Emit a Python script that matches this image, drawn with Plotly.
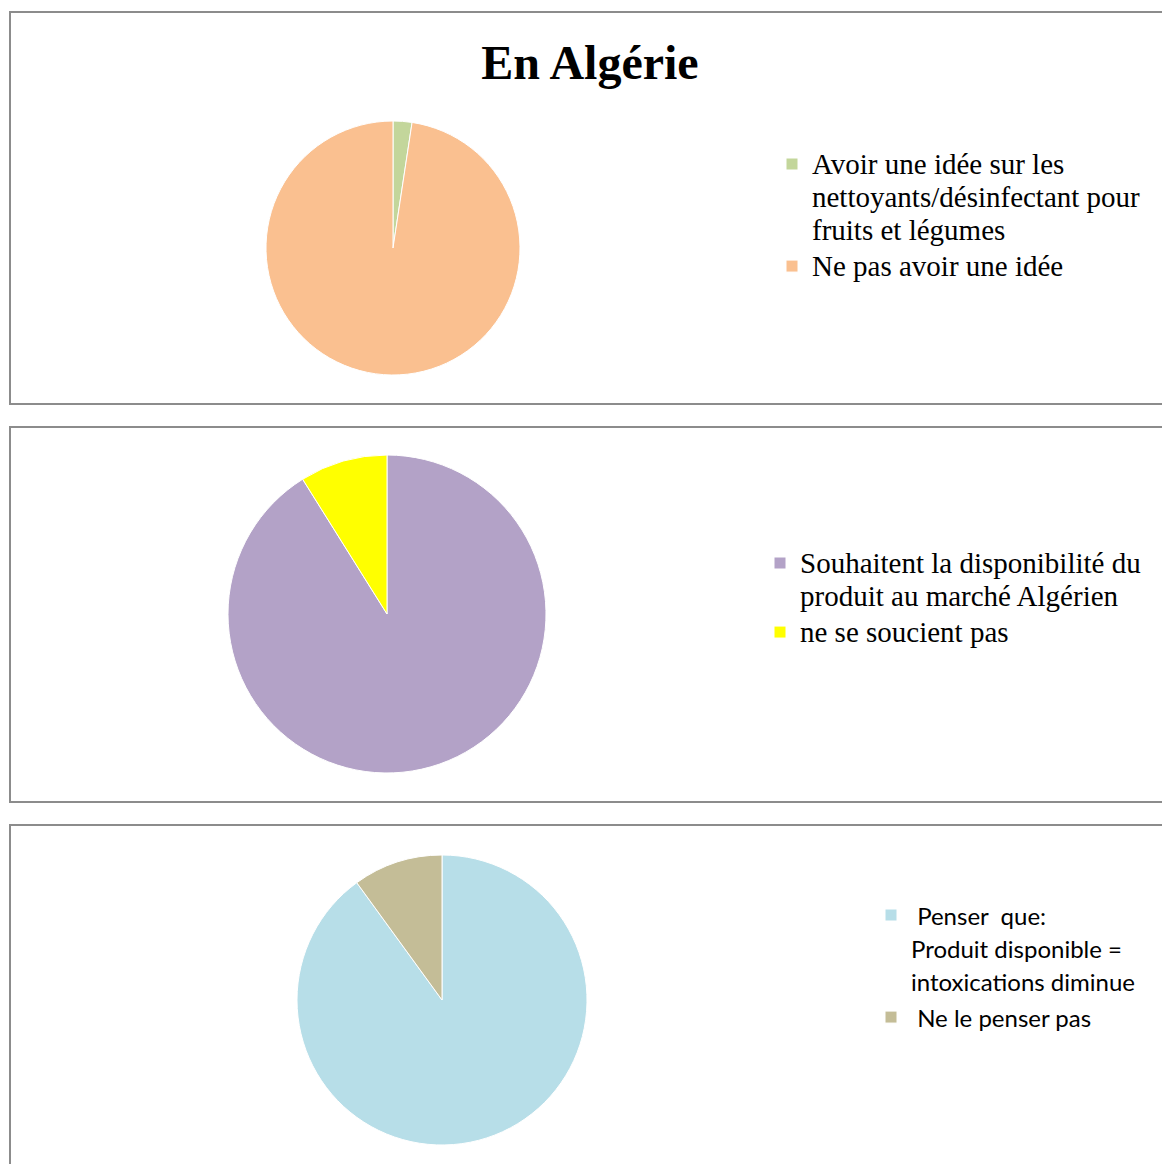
import plotly.graph_objects as go

W, H = 1162, 1164

# Survey answers (percent of respondents)
labels_idee = [["Avoir une idée sur les", "nettoyants/désinfectant pour", "fruits et légumes"],
               ["Ne pas avoir une idée"]]
values_idee = [2.4, 97.6]

labels_dispo = [["Souhaitent la disponibilité du", "produit au marché Algérien"],
                ["ne se soucient pas"]]
values_dispo = [91.1, 8.9]

labels_intox = [["\u00a0Penser\u00a0 que:", "Produit disponible =", "intoxications diminue"],
                ["\u00a0Ne le penser pas"]]
values_intox = [90.0, 10.0]

colors_idee = ["#C3D69B", "#FAC090"]
colors_dispo = ["#B3A2C7", "#FFFF00"]
colors_intox = ["#B7DEE8", "#C4BD97"]


def px_x(x):
    return x / W


def px_y(y):
    return 1 - y / H


def pie_domain(cx, cy, r):
    return dict(x=[px_x(cx - r), px_x(cx + r)], y=[px_y(cy + r), px_y(cy - r)])


def label_text(lines, size):
    # each line sized on its own so the legend keeps its tighter line pitch
    return "<br>".join(f"<span style='font-size:{size}px'>{ln}</span>" for ln in lines)


fig = go.Figure()

fig.add_trace(go.Pie(
    labels=[label_text(l, 29) for l in labels_idee], values=values_idee,
    sort=False, direction="clockwise", rotation=0, textinfo="none",
    marker=dict(colors=colors_idee, line=dict(color="white", width=1)),
    domain=pie_domain(393, 248, 127), legend="legend",
))
fig.add_trace(go.Pie(
    labels=[label_text(l, 29) for l in labels_dispo], values=values_dispo,
    sort=False, direction="clockwise", rotation=0, textinfo="none",
    marker=dict(colors=colors_dispo, line=dict(color="white", width=1)),
    domain=pie_domain(387, 614, 159), legend="legend2",
))
fig.add_trace(go.Pie(
    labels=[label_text(l, 24) for l in labels_intox], values=values_intox,
    sort=False, direction="clockwise", rotation=0, textinfo="none",
    marker=dict(colors=colors_intox, line=dict(color="white", width=1)),
    domain=pie_domain(442, 1000, 145), legend="legend3",
))

serif = dict(family="Liberation Serif", size=25.4, color="#000000")
sans = dict(family="Lato", size=25.4, color="#000000")

legend_common = dict(xanchor="left", yanchor="top", bgcolor="rgba(0,0,0,0)",
                     borderwidth=0, valign="top", itemclick=False, itemdoubleclick=False)

# Panel frames
panel_line = dict(color="#8C8C8C", width=2)
shapes = []
for top, bottom in [(12, 404), (427, 802), (825, 1180)]:
    shapes.append(dict(type="rect", xref="paper", yref="paper",
                       x0=px_x(10), x1=px_x(1175), y0=px_y(bottom), y1=px_y(top),
                       line=panel_line, fillcolor="rgba(0,0,0,0)", layer="below"))

fig.update_layout(
    width=W, height=H,
    margin=dict(l=0, r=0, t=0, b=0),
    paper_bgcolor="white", plot_bgcolor="white",
    showlegend=True,
    title=dict(text="<b>En Algérie</b>", x=px_x(590), xanchor="center",
               y=px_y(62), yanchor="middle",
               font=dict(family="Liberation Serif", size=48, color="#000000")),
    legend=dict(x=px_x(772), y=px_y(141), font=serif, **legend_common),
    legend2=dict(x=px_x(760), y=px_y(540), font=serif, **legend_common),
    legend3=dict(x=px_x(871), y=px_y(892), font=sans, **legend_common),
    shapes=shapes,
)

fig.write_html("out.html")
